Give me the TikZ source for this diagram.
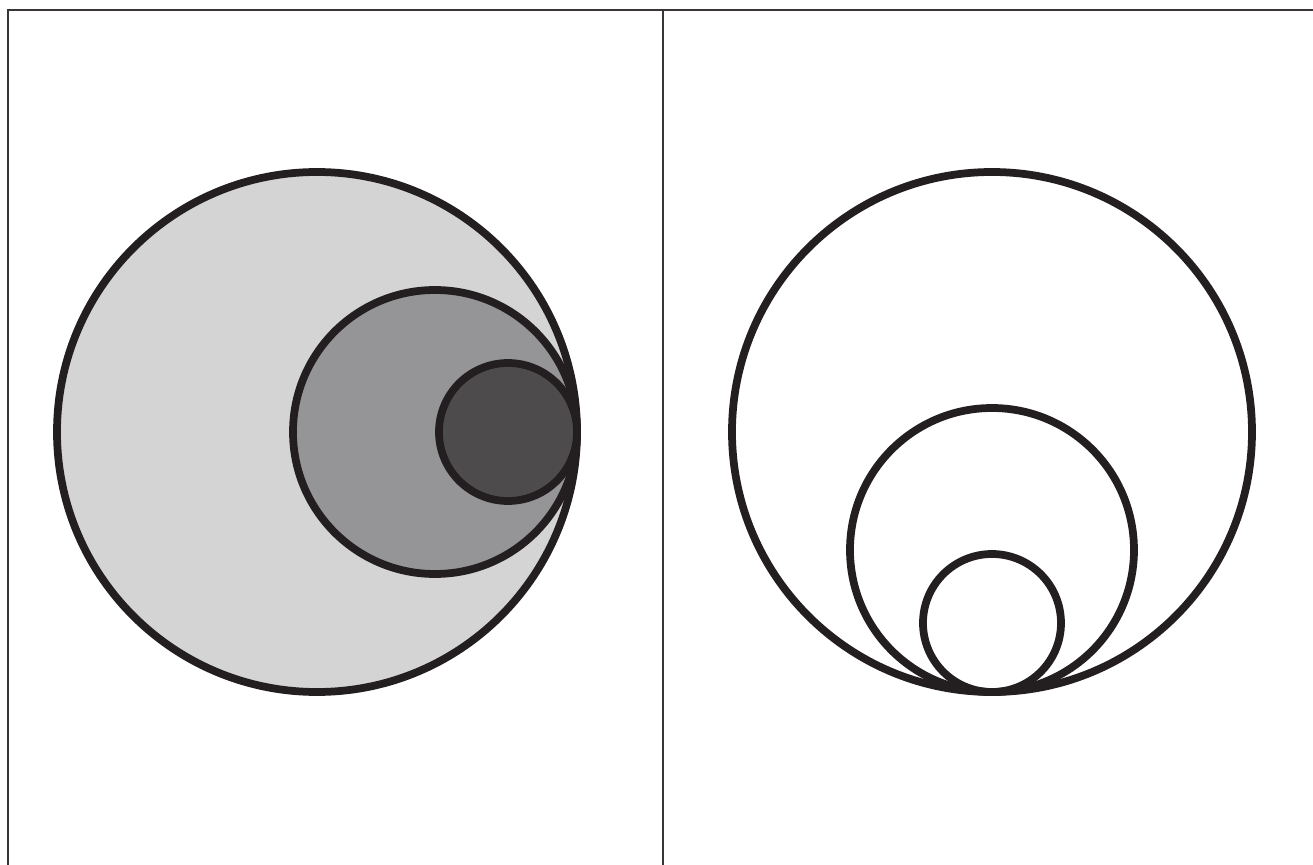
\documentclass[tikz,border=0pt]{standalone}
\usepackage{tikz}
\definecolor{ink}{HTML}{231F20}
\definecolor{shadeA}{HTML}{D4D4D4}
\definecolor{shadeB}{HTML}{959597}
\definecolor{shadeC}{HTML}{4E4B4C}

\begin{document}
\begin{tikzpicture}[x=0.02cm,y=-0.02cm,
  frame/.style={draw=ink!90,line width=0.03cm},
  ring/.style={draw=ink,line width=0.155cm}]
  \useasboundingbox (0,0) rectangle (1313,865);
  % panel frame
  \draw[frame] (8,865) -- (8,10) -- (1313,10);
  \draw[frame] (663,10) -- (663,865);
  % left panel: circles touching on the right
  \coordinate (lbig) at (317,432);
  \coordinate (lmid) at (435,432);
  \coordinate (lsmall) at (508,432);
  \draw[ring,fill=shadeA] (lbig) circle[radius=260];
  \draw[ring,fill=shadeB] (lmid) circle[radius=142];
  \draw[ring,fill=shadeC] (lsmall) circle[radius=69];
  % right panel: circles touching at the bottom
  \coordinate (rbig) at (992,432);
  \coordinate (rmid) at (992,550);
  \coordinate (rsmall) at (992,623);
  \draw[ring] (rbig) circle[radius=260];
  \draw[ring] (rmid) circle[radius=142];
  \draw[ring] (rsmall) circle[radius=69];
\end{tikzpicture}
\end{document}
